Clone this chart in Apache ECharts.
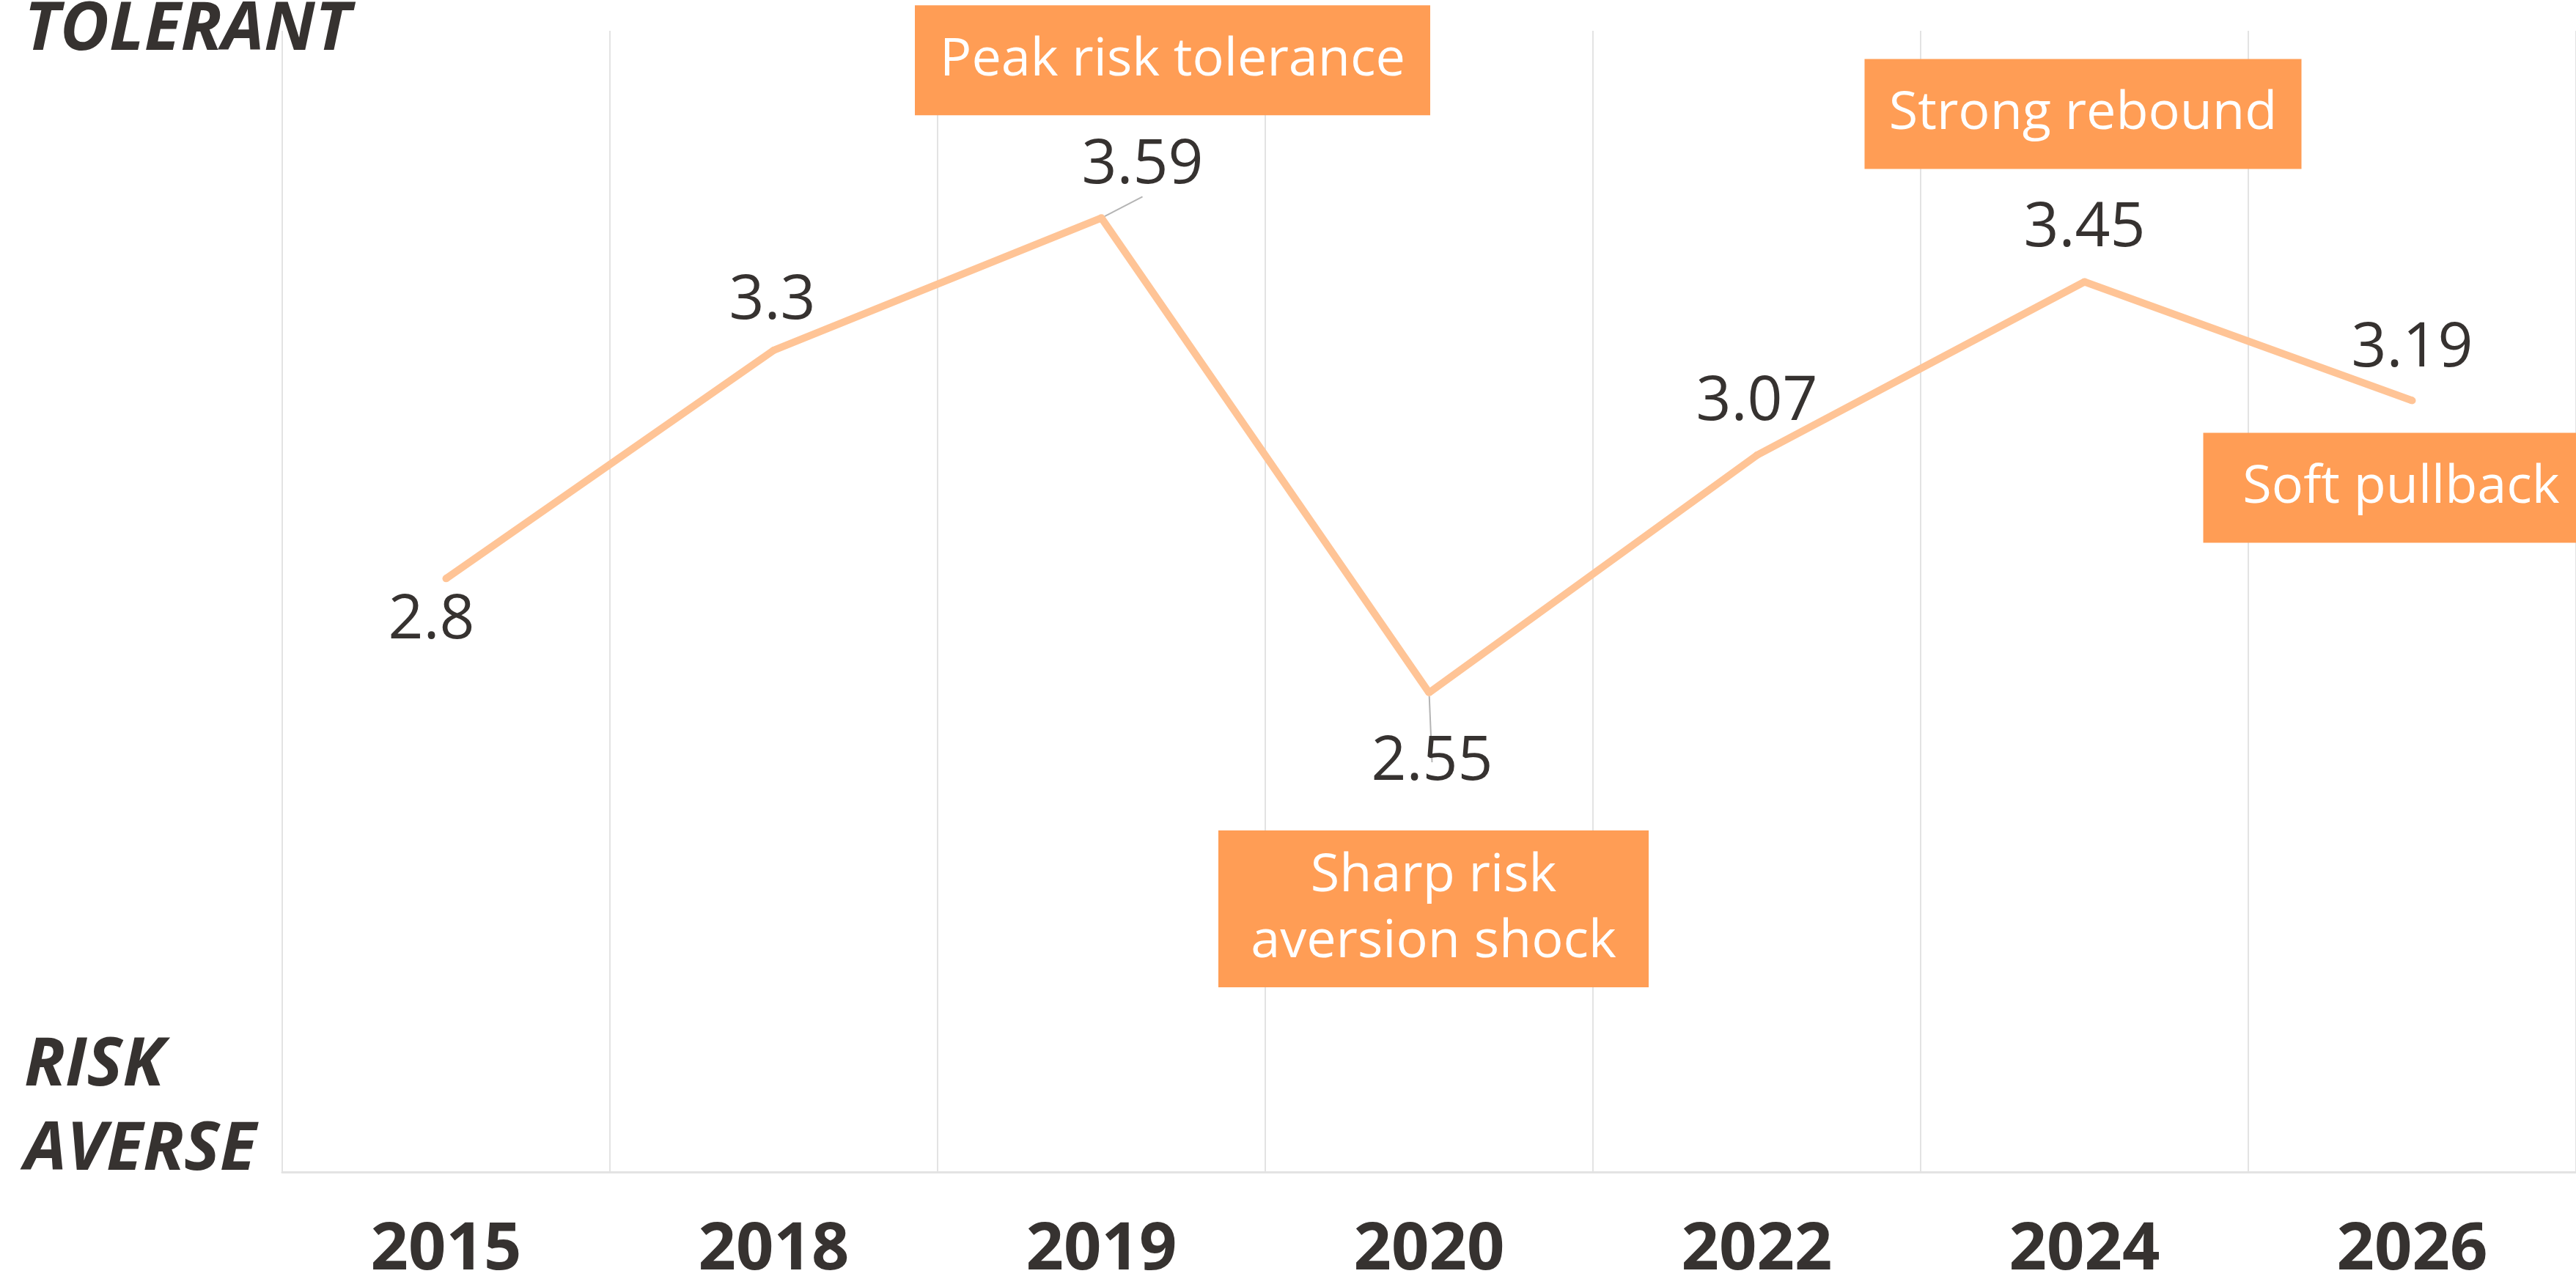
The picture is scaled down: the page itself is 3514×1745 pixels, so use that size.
<!DOCTYPE html>
<html>
<head>
<meta charset="utf-8">
<title>Risk tolerance</title>
<script src="https://cdn.jsdelivr.net/npm/echarts@6/dist/echarts.min.js"></script>
<style>
	html, body { margin: 0; padding: 0; background: #fff; }
	#chart { width: 3514px; height: 1745px; }
</style>
</head>
<body>
<div id="chart"></div>
<script>
'use strict';

var years = ['2015', '2018', '2019', '2020', '2022', '2024', '2026'];
var scores = [2.8, 3.3, 3.59, 2.55, 3.07, 3.45, 3.19];
var scaleTop = 'TOLERANT';
var scaleBottom = ['RISK', 'AVERSE'];
var noteYears = ['2019', '2020', '2024', '2026'];
var noteTexts = ['Peak risk tolerance', 'Sharp risk\naversion shock', 'Strong rebound', 'Soft pullback'];

var textColor = '#363230';
var lineColor = '#FFC496';
var boxColor = '#FF9D55';
var gridColor = '#E3E3E3';
var font = '"Open Sans", "Noto Sans", sans-serif';

// where each value label sits, relative to its point
var labelOffsets = [[-20, 58], [-2, -67], [56, -71], null, [0, -72], [0, -72], [0, -70]];
var leaderLines = [false, false, true, true, false, false, false];
// note boxes: centre offset from the point, box width, vertical padding
var noteLayout = [
	{ offset: [97, -215], width: 703, pad: 30 },
	{ offset: [6, 295], width: 587, pad: 17 },
	{ offset: [-2, -229], width: 596, pad: 30 },
	{ offset: [-15, 119], width: 540, pad: 30 }
];

var chartElem = document.getElementById('chart');
if (chartElem) {
	var chart = echarts.init(chartElem);

	var points = scores.map(function (v, i) {
		var label = labelOffsets[i]
			? { position: 'inside', offset: labelOffsets[i] }
			: { position: 'bottom', distance: 48, offset: [4, 0] };
		return {
			value: v,
			label: label,
			labelLine: {
				show: leaderLines[i],
				lineStyle: { color: '#B4B4B4', width: 2 }
			}
		};
	});

	var notes = noteTexts.map(function (t, i) {
		var idx = years.indexOf(noteYears[i]);
		return {
			name: t,
			coord: [noteYears[i], scores[idx]],
			label: {
				offset: noteLayout[i].offset,
				width: noteLayout[i].width,
				padding: [noteLayout[i].pad, 0]
			}
		};
	});

	chart.setOption({
		animation: false,
		backgroundColor: '#fff',
		textStyle: { fontFamily: font },
		grid: {
			left: 385,
			right: 0,
			top: 42,
			bottom: 146,
			outerBoundsMode: 'none'
		},
		xAxis: {
			type: 'category',
			data: years,
			boundaryGap: true,
			axisLine: { lineStyle: { color: gridColor, width: 3 } },
			axisTick: { show: false },
			splitLine: { show: true, lineStyle: { color: gridColor, width: 2 } },
			axisLabel: {
				margin: 107,
				verticalAlign: 'middle',
				fontSize: 90,
				fontWeight: 'bold',
				color: textColor,
				fontFamily: font
			}
		},
		yAxis: {
			type: 'value',
			min: 1.5,
			max: 4,
			interval: 0.5,
			axisLine: { show: false },
			axisTick: { show: false },
			splitLine: { show: false },
			axisLabel: {
				align: 'left',
				margin: 352,
				formatter: function (v) {
					if (v === 4) return '{t|' + scaleTop + '}';
					if (v === 1.5) return '{t|' + scaleBottom[0] + '}\n{t|' + scaleBottom[1] + '}\n{gap| }';
					return '';
				},
				rich: {
					t: {
						fontSize: 92,
						fontWeight: 'bold',
						fontStyle: 'italic',
						lineHeight: 115,
						color: textColor,
						fontFamily: font
					},
					gap: { fontSize: 1, lineHeight: 173 }
				}
			}
		},
		series: [{
			type: 'line',
			data: points,
			symbol: 'circle',
			symbolSize: 10,
			showSymbol: true,
			itemStyle: { color: lineColor },
			lineStyle: { color: lineColor, width: 10 },
			label: {
				show: true,
				fontSize: 84,
				color: textColor,
				fontFamily: font
			},
			markPoint: {
				symbol: 'circle',
				symbolSize: 1,
				itemStyle: { color: 'rgba(0,0,0,0)' },
				label: {
					show: true,
					position: 'inside',
					formatter: '{b}',
					align: 'center',
					backgroundColor: boxColor,
					color: '#fff',
					fontSize: 72,
					lineHeight: 90,
					fontFamily: font
				},
				data: notes
			}
		}]
	});

	window.addEventListener('resize', function () {
		setTimeout(function () {
			chart.resize();
		}, 500);
	});
}
</script>
</body>
</html>
